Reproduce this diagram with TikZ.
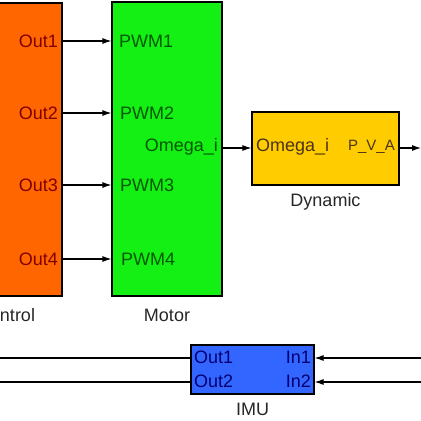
\documentclass[tikz,border=0pt]{standalone}
\usepackage{fontspec}
\setmainfont{Liberation Sans}
\usetikzlibrary{arrows.meta, positioning}

\definecolor{ctrlfill}{RGB}{255,102,0}
\definecolor{motorfill}{RGB}{20,240,20}
\definecolor{dynfill}{RGB}{255,204,0}
\definecolor{imufill}{RGB}{51,102,255}

\begin{document}
\begin{tikzpicture}[x=1pt, y=-1pt,
  block/.style={draw, line width=1.1pt, inner sep=0pt},
  port/.style={font=\fontsize{18}{18}\selectfont, inner sep=1pt},
  caption/.style={font=\fontsize{18}{18}\selectfont, text=black!85, anchor=base},
  sig/.style={line width=1.1pt, -{Latex[length=9pt,width=6pt]}},
  wire/.style={line width=1.1pt}]
\useasboundingbox (0,0) rectangle (421,421);

% Blocks
\node[block, fill=ctrlfill, minimum width=112pt, minimum height=293pt] (ctrl) at (6,149.5) {};
\node[block, fill=motorfill, minimum width=110pt, minimum height=294pt] (motor) at (167,149) {};
\node[block, fill=dynfill, minimum width=147pt, minimum height=73pt] (dyn) at (325.5,148.5) {};
\node[block, fill=imufill, minimum width=123pt, minimum height=49pt] (imu) at (252.5,369.5) {};

% Captions
\node[caption] (ctrlcap) at (6,321) {Control};
\node[caption] (motorcap) at (167,321) {Motor};
\node[caption] (dyncap) at (325.5,206) {Dynamic};
\node[caption] (imucap) at (252.5,415) {IMU};

% Control outputs
\node[port, anchor=east, text=red!50!black] (out1) at (59,41) {Out1};
\node[port, anchor=east, text=red!50!black] (out2) at (59,113) {Out2};
\node[port, anchor=east, text=red!50!black] (out3) at (59,185) {Out3};
\node[port, anchor=east, text=red!50!black] (out4) at (59,259) {Out4};

% Motor ports
\node[port, anchor=west, text=green!35!black] (pwm1) at (118,41) {PWM1};
\node[port, anchor=west, text=green!35!black] (pwm2) at (119,113) {PWM2};
\node[port, anchor=west, text=green!35!black] (pwm3) at (119,185) {PWM3};
\node[port, anchor=west, text=green!35!black] (pwm4) at (120,259) {PWM4};
\node[port, anchor=east, text=green!35!black] (omout) at (219,147) {Omega\_i};

% Dynamic ports
\node[port, anchor=west, text=brown!40!black] (omin) at (255,147) {Omega\_i};
\node[port, anchor=east, text=brown!40!black, font=\fontsize{15}{15}\selectfont] (pva) at (396,147) {P\_V\_A};

% IMU ports
\node[port, anchor=west, text=blue!45!black] (iout1) at (193,357) {Out1};
\node[port, anchor=west, text=blue!45!black] (iout2) at (193,381) {Out2};
\node[port, anchor=east, text=blue!45!black] (iin1) at (312,357) {In1};
\node[port, anchor=east, text=blue!45!black] (iin2) at (312,381) {In2};

% Free ends
\coordinate (pvaend) at (421,148);
\coordinate (left1) at (-5,358);
\coordinate (left2) at (-5,382);
\coordinate (right1) at (426,358);
\coordinate (right2) at (426,382);

% Signals
\draw[sig] (ctrl.east |- out1) -- (motor.west |- out1);
\draw[sig] (ctrl.east |- out2) -- (motor.west |- out2);
\draw[sig] (ctrl.east |- out3) -- (motor.west |- out3);
\draw[sig] (ctrl.east |- out4) -- (motor.west |- out4);
\draw[sig] (motor.east |- pvaend) -- (dyn.west |- pvaend);
\draw[sig] (dyn.east |- pvaend) -- (pvaend);

\draw[wire] (imu.west |- left1) -- (left1);
\draw[wire] (imu.west |- left2) -- (left2);
\draw[sig] (right1) -- (imu.east |- right1);
\draw[sig] (right2) -- (imu.east |- right2);
\end{tikzpicture}
\end{document}
